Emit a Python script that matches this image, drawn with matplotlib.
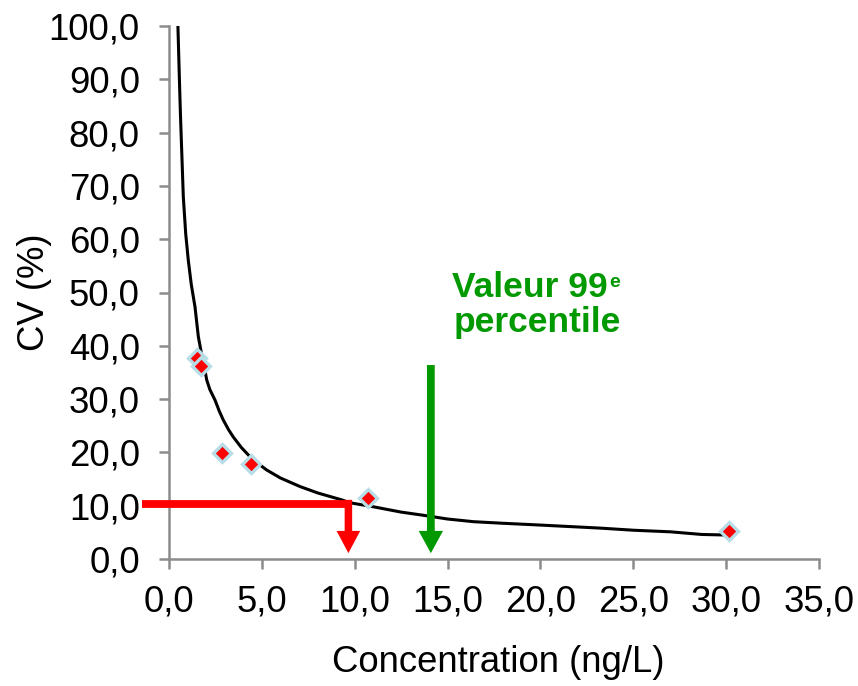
import matplotlib
matplotlib.use("Agg")
import matplotlib.pyplot as plt
from matplotlib.ticker import FuncFormatter, MultipleLocator

plt.rcParams['font.family'] = ['Liberation Sans', 'DejaVu Sans']

# Fitted precision profile
curve_x = [0.48, 0.52, 0.56, 0.62, 0.68, 0.77, 0.90, 1.04, 1.20, 1.40, 1.58,
           1.75, 1.90, 2.03, 2.20, 2.48, 2.70, 2.92, 3.20, 3.46, 3.90, 4.36,
           4.80, 5.26, 6.00, 7.05, 8.00, 9.39, 9.66, 11.0, 12.5, 13.9, 15.0,
           16.4, 18.0, 19.8, 21.5, 23.2, 25.0, 27.0, 28.7, 30.0]
curve_cv = [100, 95, 90, 83, 77, 68, 61, 56, 51.5, 47.3, 41.7,
            38.5, 36.1, 33.6, 31.8, 29.8, 27.8, 26.1, 24.3, 22.9, 20.9, 19.2,
            17.9, 16.7, 15.2, 13.6, 12.4, 11.0, 10.6, 9.8, 8.8, 8.1, 7.5,
            7.0, 6.7, 6.4, 6.1, 5.8, 5.4, 5.1, 4.6, 4.5]

# Measured points
pts_x = [1.51, 1.72, 2.84, 4.42, 10.72, 30.16]
pts_cv = [37.7, 36.2, 19.9, 17.8, 11.4, 5.25]

# Annotations
cv_target = 10.4
conc_at_target = 9.66
p99_conc = 14.1

W, H = 858, 686
fig = plt.figure(figsize=(W / 100, H / 100), dpi=100)
ax = fig.add_axes([169 / W, (H - 559) / H, 650 / W, 533 / H])

ax.plot(curve_x, curve_cv, color='black', lw=2.2, zorder=3)
ax.plot(pts_x, pts_cv, linestyle='none', marker='D', ms=9.5,
        mfc='#ff0000', mec='#b7dde6', mew=2.4, zorder=4)

# Red L-shaped arrow
ax.plot([-1.48, conc_at_target + 0.2], [cv_target, cv_target], color='#ff0000',
        lw=5.6, solid_capstyle='butt', clip_on=False, zorder=5)
ax.annotate('', xy=(conc_at_target, 1.1), xytext=(conc_at_target, cv_target + 0.7),
            arrowprops=dict(arrowstyle='simple,head_length=1.6,head_width=1.7,tail_width=0.54',
                            color='#ff0000', lw=0, shrinkA=0, shrinkB=0,
                            mutation_scale=10), zorder=5)
# Green arrow
ax.annotate('', xy=(p99_conc, 1.1), xytext=(p99_conc, 36.4),
            arrowprops=dict(arrowstyle='simple,head_length=1.6,head_width=1.75,tail_width=0.56',
                            color='#009900', lw=0, shrinkA=0, shrinkB=0,
                            mutation_scale=10), zorder=5)

green = '#009900'
fig.text(452 / W, 1 - 296.7 / H, 'Valeur 99', color=green, fontsize=25.5,
         fontweight='bold', ha='left', va='baseline')
fig.text(609 / W, 1 - 287.5 / H, 'e', color=green, fontsize=14,
         fontweight='bold', ha='left', va='baseline')
fig.text(537 / W, 1 - 331.7 / H, 'percentile', color=green, fontsize=25.5,
         fontweight='bold', ha='center', va='baseline')

ax.set_xlim(0, 35)
ax.set_ylim(0, 100)
ax.xaxis.set_major_locator(MultipleLocator(5))
ax.yaxis.set_major_locator(MultipleLocator(10))
fmt = FuncFormatter(lambda v, p: f"{v:.1f}".replace('.', ','))
ax.xaxis.set_major_formatter(fmt)
ax.yaxis.set_major_formatter(fmt)

grey = '#8c8c8c'
for s in ['top', 'right']:
    ax.spines[s].set_visible(False)
for s in ['left', 'bottom']:
    ax.spines[s].set_color(grey)
    ax.spines[s].set_linewidth(1.8)
ax.tick_params(axis='both', direction='out', length=7, width=1.8, color=grey,
               labelsize=26.3, labelcolor='black')
ax.tick_params(axis='x', pad=11)
ax.tick_params(axis='y', pad=14)

ax.set_xlabel('Concentration (ng/L)', fontsize=26.3)
ax.set_ylabel('CV (%)', fontsize=26.3)
ax.xaxis.set_label_coords((498 - 169) / 650, -(645 - 559) / 533)
ax.yaxis.set_label_coords((35 - 169) / 650, (559 - 292) / 533)
ax.xaxis.label.set_va('top')
ax.yaxis.label.set_va('center')

fig.savefig('out.png', dpi=100)
